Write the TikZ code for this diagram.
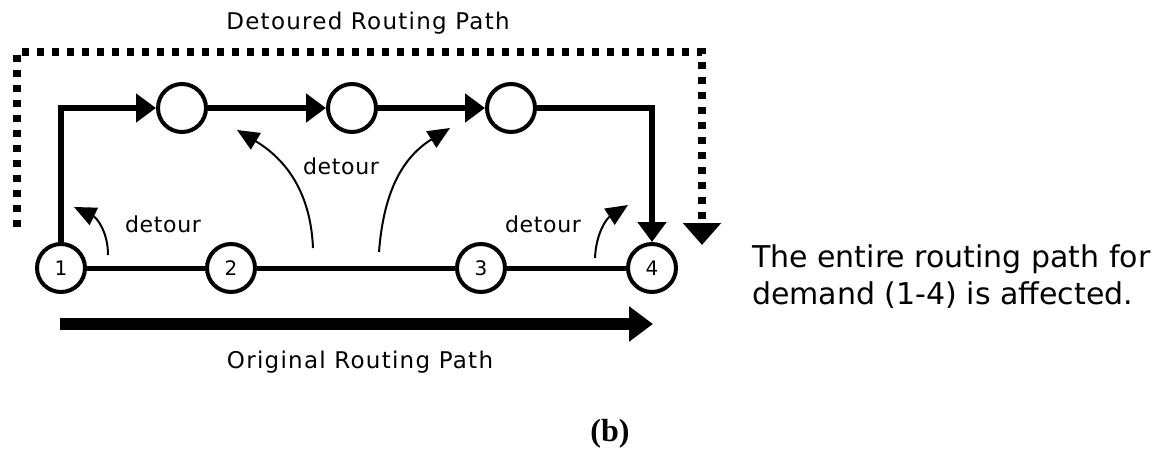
\documentclass[tikz,border=0pt]{standalone}
\usepackage{fontspec}
\setmainfont{DejaVu Sans}
\newfontfamily\serifb{Liberation Serif}
\newfontfamily\labelfont[LetterSpace=5.5]{DejaVu Sans}
\newfontfamily\detourfont[LetterSpace=3]{DejaVu Sans}
\usetikzlibrary{arrows.meta}
\begin{document}
\begin{tikzpicture}[x=1pt,y=-1pt,
  nd/.style={circle,draw,line width=4pt,minimum size=48pt,inner sep=0pt,
             font=\fontsize{20}{20}\selectfont},
  route/.style={line width=5.5pt,line join=miter},
  link/.style={line width=5pt},
  bighead/.style={-{Triangle[length=20pt,width=28pt]}},
  dotroute/.style={line width=8pt,dash pattern=on 7pt off 8pt,
                   -{Triangle[length=22pt,width=37pt]}},
  detourarrow/.style={line width=2pt,-{Triangle[length=22pt,width=19pt]}},
  title/.style={font=\labelfont\fontsize{23}{23}\selectfont,anchor=base},
  lbl/.style={font=\detourfont\fontsize{22}{22}\selectfont,anchor=base},
  note/.style={font=\fontsize{30}{37}\selectfont,align=left,anchor=base west,inner sep=0pt}
]
\useasboundingbox (0,0) rectangle (1164,449);

% nodes of the original path
\node[nd] (n1) at (61,268) {1};
\node[nd] (n2) at (231,268) {2};
\node[nd] (n3) at (481,268) {3};
\node[nd] (n4) at (652,268) {4};
% intermediate nodes of the detour
\node[nd] (a) at (182,108) {};
\node[nd] (b) at (352,108) {};
\node[nd] (c) at (511,108) {};

% original links
\draw[link] (n1) -- (n2);
\draw[link] (n2) -- (n3);
\draw[link] (n3) -- (n4);

% detoured links
\draw[route,bighead] (n1.north) |- (a.west);
\draw[route,bighead] (a) -- (b);
\draw[route,bighead] (b) -- (c);
\draw[route,bighead] (c.east) -| (n4.north);

% dotted outline of the detoured routing path
\coordinate (d0) at (17,227);
\coordinate (d1) at (17,52);
\coordinate (d2) at (702,52);
\coordinate (d3) at (702,245);
\draw[dotroute] (d0) -- (d1) -- (d2) -- (d3);
\node[title] (dtitle) at (368,30) {Detoured Routing Path};

% detour arrows
\coordinate (s1) at (108,255); \coordinate (t1) at (74,207);
\coordinate (s2) at (313,248); \coordinate (t2) at (237,130);
\coordinate (s3) at (379,252); \coordinate (t3) at (450,128);
\coordinate (s4) at (595,258); \coordinate (t4) at (628,205);
\draw[detourarrow] (s1) .. controls (108,232) and (97,218) .. (t1);
\draw[detourarrow] (s2) .. controls (311,200) and (292,163) .. (t2);
\draw[detourarrow] (s3) .. controls (383,200) and (398,160) .. (t3);
\draw[detourarrow] (s4) .. controls (596,234) and (606,219) .. (t4);
\node[lbl] (l1) at (163,232) {detour};
\node[lbl] (l2) at (341,175) {detour};
\node[lbl] (l3) at (543,232) {detour};

% original routing path
\coordinate (o1) at (60,324);
\coordinate (o2) at (653,324);
\draw[line width=12pt,-{Triangle[length=24pt,width=34pt]}] (o1) -- (o2);
\node[title] (otitle) at (360,368) {Original Routing Path};

\node[note] (remark) at (752,304) {The entire routing path for\\demand (1-4) is affected.};
\node[font=\serifb\bfseries\fontsize{32}{32}\selectfont,anchor=base] (cap) at (610,441) {(b)};
\end{tikzpicture}
\end{document}
